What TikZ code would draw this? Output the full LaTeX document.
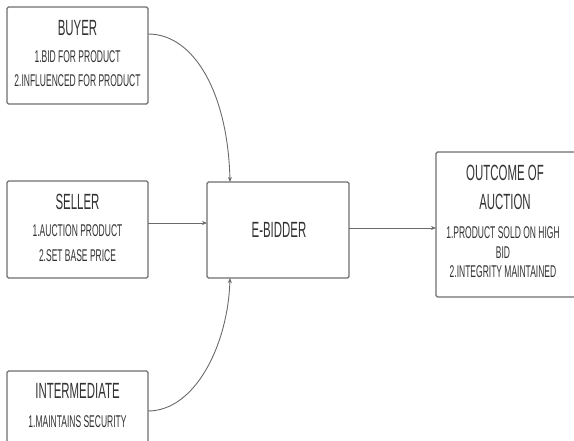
\documentclass[tikz,border=0pt]{standalone}
\usepackage{fontspec}
\setmainfont{Liberation Sans}
\newfontfamily\ttlfont[FakeStretch=0.52]{Liberation Sans}
\newfontfamily\subfont[FakeStretch=0.5]{Liberation Sans}
\usetikzlibrary{arrows.meta}
\definecolor{txt}{HTML}{333333}
\definecolor{edge}{HTML}{6E6E6E}
\definecolor{wire}{HTML}{6A6A6A}
\tikzset{
  box/.style={draw=edge, line width=1.3pt, rounded corners=1.5pt, fill=white},
  ttl/.style={text=txt, font=\ttlfont\fontsize{22}{22}\selectfont, inner sep=0pt, anchor=base},
  sub/.style={text=txt, font=\subfont\fontsize{17}{17}\selectfont, inner sep=0pt, anchor=base},
  wirearrow/.style={draw=wire, line width=0.9pt, -{Stealth[length=5pt,width=4pt]}}
}
\begin{document}
\begin{tikzpicture}[x=1pt,y=-1pt]
\useasboundingbox (0,0) rectangle (574,441);
\begin{scope}
\clip (0,0) rectangle (574,441);
% boxes
\draw[box] (7,7) rectangle (148,104);
\draw[box] (7,181) rectangle (148,278);
\draw[box] (7,371) rectangle (148,470);
\draw[box] (207,182) rectangle (349,278);
\draw[box] (436,152) rectangle (600,297);
\end{scope}
% anchors
\coordinate (buyerR) at (148,34);
\coordinate (sellerR) at (148,223);
\coordinate (interR) at (148,411);
\coordinate (ebTop) at (230,182);
\coordinate (ebLeft) at (207,223);
\coordinate (ebBot) at (230,278);
\coordinate (ebRight) at (349,228);
\coordinate (outLeft) at (436,228);
% texts
\node[ttl] (t1) at (77.5,36) {BUYER};
\node[sub] (s11) at (77.5,63) {1.BID FOR PRODUCT};
\node[sub] (s12) at (77.5,87) {2.INFLUENCED FOR PRODUCT};
\node[ttl] (t2) at (77.5,210) {SELLER};
\node[sub] (s21) at (77.5,237) {1.AUCTION PRODUCT};
\node[sub] (s22) at (77.5,262) {2.SET BASE PRICE};
\node[ttl] (t3) at (77.5,399) {INTERMEDIATE};
\node[sub] (s31) at (77.5,428) {1.MAINTAINS SECURITY};
\node[ttl] (t4) at (279,238) {E-BIDDER};
\node[ttl] (t5) at (505,181) {OUTCOME OF};
\node[ttl] (t6) at (505,210) {AUCTION};
\node[sub] (s51) at (503,239) {1.PRODUCT SOLD ON HIGH};
\node[sub] (s52) at (503,259) {BID};
\node[sub] (s53) at (503,278) {2.INTEGRITY MAINTAINED};
% connectors
\draw[wirearrow] (buyerR) .. controls (195,34) and (228,95) .. (ebTop);
\draw[wirearrow] (sellerR) -- (ebLeft);
\draw[wirearrow] (interR) .. controls (195,411) and (228,345) .. (ebBot);
\draw[wirearrow] (ebRight) -- (outLeft);
\end{tikzpicture}
\end{document}
